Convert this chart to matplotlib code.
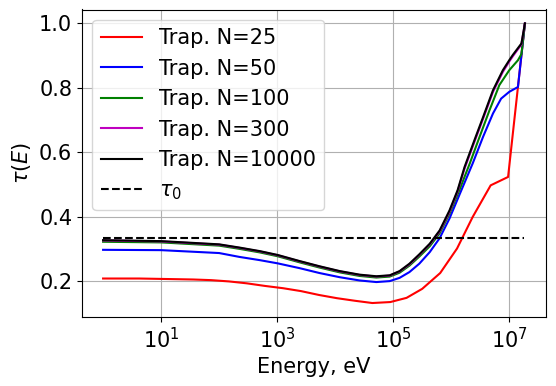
import numpy as np
import matplotlib
matplotlib.use("Agg")
import matplotlib.pyplot as plt
from matplotlib.ticker import NullLocator

# log10(E / eV) sample positions and tau values
red_logE = [0.00, 0.31, 0.62, 0.93, 1.24, 1.55, 1.86, 2.17, 2.48, 2.79, 3.10, 3.41, 3.72,
            4.03, 4.34, 4.64, 4.95, 5.23, 5.50, 5.81, 6.10, 6.37, 6.68, 6.98, 7.27]
red_tau = [0.209, 0.209, 0.209, 0.208, 0.207, 0.206, 0.204, 0.200, 0.194, 0.186, 0.179, 0.170,
           0.158, 0.148, 0.140, 0.133, 0.136, 0.149, 0.177, 0.226, 0.302, 0.400, 0.498, 0.524,
           1.000]

blue_logE = [0.00, 1.00, 2.00, 2.35, 2.70, 3.01, 3.39, 3.73, 4.08, 4.42, 4.71, 4.94, 5.11,
             5.28, 5.45, 5.63, 5.80, 5.97, 6.14, 6.37, 6.55, 6.72, 6.86, 7.00, 7.15, 7.27]
blue_tau = [0.298, 0.297, 0.288, 0.276, 0.266, 0.256, 0.241, 0.226, 0.213, 0.203, 0.198, 0.201,
            0.211, 0.229, 0.255, 0.291, 0.334, 0.395, 0.468, 0.566, 0.649, 0.721, 0.767, 0.788,
            0.803, 1.000]

green_logE = [0.00, 1.00, 2.00, 2.35, 2.70, 3.01, 3.39, 3.73, 4.08, 4.42, 4.71, 4.94, 5.11,
              5.28, 5.45, 5.63, 5.80, 5.97, 6.14, 6.32, 6.49, 6.66, 6.83, 7.00, 7.15, 7.21, 7.27]
green_tau = [0.323, 0.321, 0.311, 0.301, 0.290, 0.278, 0.259, 0.243, 0.228, 0.217, 0.212, 0.215,
             0.227, 0.249, 0.277, 0.309, 0.349, 0.410, 0.483, 0.566, 0.649, 0.731, 0.809, 0.855,
             0.886, 0.905, 1.000]

black_logE = [0.00, 1.00, 2.00, 2.35, 2.70, 3.01, 3.39, 3.73, 4.08, 4.42, 4.71, 4.94, 5.11,
              5.28, 5.45, 5.63, 5.80, 5.97, 6.11, 6.23, 6.40, 6.55, 6.72, 6.89, 7.00, 7.06,
              7.21, 7.27]
black_tau = [0.328, 0.325, 0.315, 0.305, 0.294, 0.282, 0.263, 0.247, 0.232, 0.221, 0.216, 0.219,
             0.232, 0.255, 0.284, 0.317, 0.358, 0.420, 0.483, 0.555, 0.638, 0.710, 0.793, 0.855,
             0.886, 0.902, 0.938, 1.000]

magenta_logE = black_logE
magenta_tau = [0.327, 0.324, 0.314, 0.304, 0.293, 0.281, 0.262, 0.246, 0.231, 0.220, 0.215, 0.218,
               0.231, 0.253, 0.282, 0.315, 0.355, 0.416, 0.479, 0.550, 0.633, 0.705, 0.788, 0.850,
               0.882, 0.898, 0.935, 1.000]

tau0 = 0.334
tau0_logE = [0.00, 7.25]

series = [
    ("Trap. N=25", red_logE, red_tau, "r"),
    ("Trap. N=50", blue_logE, blue_tau, "b"),
    ("Trap. N=100", green_logE, green_tau, "g"),
    ("Trap. N=300", magenta_logE, magenta_tau, "m"),
    ("Trap. N=10000", black_logE, black_tau, "k"),
]

fig = plt.figure(figsize=(5.56, 3.86), dpi=100)
ax = fig.add_axes([82 / 556, 1 - 317 / 386, 464 / 556, 307.5 / 386])

for label, logE, tau, color in series:
    ax.plot(10 ** np.array(logE), tau, color=color, label=label)
ax.plot(10 ** np.array(tau0_logE), [tau0, tau0], "k--", label=r"$\tau_0$")

ax.set_xscale("log")
ax.set_xticks([1e1, 1e3, 1e5, 1e7])
ax.xaxis.set_minor_locator(NullLocator())
ax.set_yticks([0.2, 0.4, 0.6, 0.8, 1.0])
ax.tick_params(labelsize=15)
ax.set_xlabel("Energy, eV", fontsize=15)
ax.set_ylabel(r"$\tau(E)$", fontsize=15)
ax.grid(True)
ax.legend(loc="upper left", fontsize=15)

fig.savefig("out.png", dpi=100)
